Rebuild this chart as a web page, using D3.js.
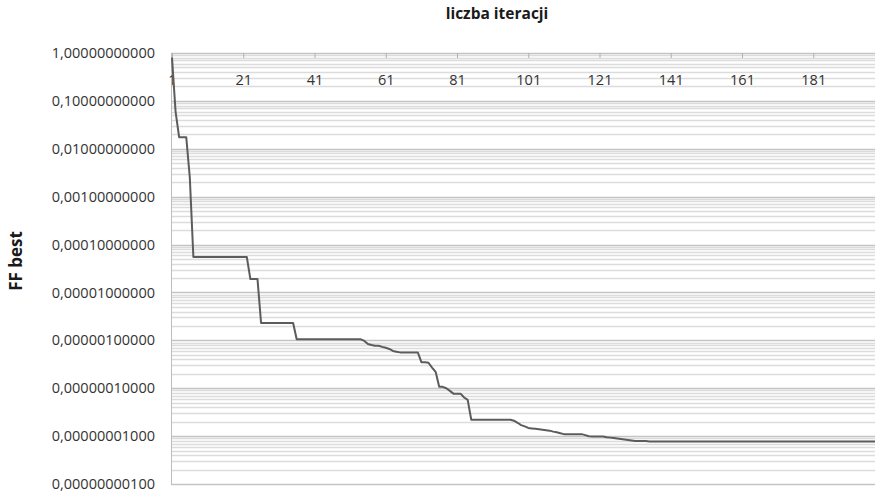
<!DOCTYPE html>
<html>
<head>
<meta charset="utf-8">
<script src="https://cdn.jsdelivr.net/npm/d3@7"></script>
<style>
  body { margin: 0; background: #fff; }
  text { font-family: "Open Sans", sans-serif; }
</style>
</head>
<body>
<div id="chart"></div>
<script>
// iterations (category axis) and the best fitness value per iteration
var iterations = d3.range(1, 201);
var xTickLabels = [1, 21, 41, 61, 81, 101, 121, 141, 161, 181];
var yTicks = [1, 0.1, 0.01, 0.001, 1e-4, 1e-5, 1e-6, 1e-7, 1e-8, 1e-9];

var ffBest = [
  0.8, 0.06, 0.0175, 0.0175, 0.0175, 0.0025, 5.5e-5, 5.5e-5, 5.5e-5, 5.5e-5,
  5.5e-5, 5.5e-5, 5.5e-5, 5.5e-5, 5.5e-5, 5.5e-5, 5.5e-5, 5.5e-5, 5.5e-5, 5.5e-5,
  5.5e-5, 5.5e-5, 1.9e-5, 1.9e-5, 1.9e-5, 2.3e-6, 2.3e-6, 2.3e-6, 2.3e-6, 2.3e-6,
  2.3e-6, 2.3e-6, 2.3e-6, 2.3e-6, 2.3e-6, 1.05e-6, 1.05e-6, 1.05e-6, 1.05e-6, 1.05e-6,
  1.05e-6, 1.05e-6, 1.05e-6, 1.05e-6, 1.05e-6, 1.05e-6, 1.05e-6, 1.05e-6, 1.05e-6, 1.05e-6,
  1.05e-6, 1.05e-6, 1.05e-6, 1.05e-6, 9.7e-7, 8.4e-7, 8.0e-7, 7.7e-7, 7.7e-7, 7.3e-7,
  7.0e-7, 6.6e-7, 6.0e-7, 5.8e-7, 5.6e-7, 5.6e-7, 5.6e-7, 5.6e-7, 5.6e-7, 5.6e-7,
  3.5e-7, 3.5e-7, 3.4e-7, 2.7e-7, 2.2e-7, 1.07e-7, 1.07e-7, 1.0e-7, 8.8e-8, 7.7e-8,
  7.7e-8, 7.7e-8, 6.4e-8, 5.7e-8, 2.2e-8, 2.2e-8, 2.2e-8, 2.2e-8, 2.2e-8, 2.2e-8,
  2.2e-8, 2.2e-8, 2.2e-8, 2.2e-8, 2.2e-8, 2.2e-8, 2.1e-8, 1.9e-8, 1.7e-8, 1.6e-8,
  1.48e-8, 1.45e-8, 1.42e-8, 1.39e-8, 1.36e-8, 1.33e-8, 1.3e-8, 1.24e-8, 1.2e-8, 1.15e-8,
  1.1e-8, 1.1e-8, 1.1e-8, 1.1e-8, 1.1e-8, 1.1e-8, 1.05e-8, 9.9e-9, 9.8e-9, 9.8e-9,
  9.8e-9, 9.8e-9, 9.5e-9, 9.3e-9, 9.1e-9, 8.9e-9, 8.7e-9, 8.5e-9, 8.3e-9, 8.1e-9,
  7.9e-9, 7.9e-9, 7.9e-9, 7.9e-9, 7.7e-9, 7.7e-9, 7.7e-9, 7.7e-9, 7.7e-9, 7.7e-9,
  7.7e-9, 7.7e-9, 7.7e-9, 7.7e-9, 7.7e-9, 7.7e-9, 7.7e-9, 7.7e-9, 7.7e-9, 7.7e-9,
  7.7e-9, 7.7e-9, 7.7e-9, 7.7e-9, 7.7e-9, 7.7e-9, 7.7e-9, 7.7e-9, 7.7e-9, 7.7e-9,
  7.7e-9, 7.7e-9, 7.7e-9, 7.7e-9, 7.7e-9, 7.7e-9, 7.7e-9, 7.7e-9, 7.7e-9, 7.7e-9,
  7.7e-9, 7.7e-9, 7.7e-9, 7.7e-9, 7.7e-9, 7.7e-9, 7.7e-9, 7.7e-9, 7.7e-9, 7.7e-9,
  7.7e-9, 7.7e-9, 7.7e-9, 7.7e-9, 7.7e-9, 7.7e-9, 7.7e-9, 7.7e-9, 7.7e-9, 7.7e-9,
  7.7e-9, 7.7e-9, 7.7e-9, 7.7e-9, 7.7e-9, 7.7e-9, 7.7e-9, 7.7e-9, 7.7e-9, 7.7e-9
];

var totalWidth = 875,
  totalHeight = 494,
  margin = { top: 53, bottom: 10, left: 171, right: 0 },
  width = totalWidth - margin.left - margin.right,
  height = totalHeight - margin.top - margin.bottom;

var svg = d3
  .select("#chart")
  .append("svg")
  .attr("width", totalWidth)
  .attr("height", totalHeight);

var g = svg.append("g")
  .attr("transform", "translate(" + margin.left + "," + margin.top + ")");

var x = d3.scaleLinear()
          .domain([1, 200])
          .range([1, 1 + 199 * 3.5625]);

var y = d3.scaleLog()
          .domain([1e-9, 1])
          .range([height, 0]);

// minor gridlines (2..9 within each decade)
var minor = [];
yTicks.slice(1).forEach(function(d) {
  for (var k = 2; k <= 9; k++) minor.push(d * k);
});

g.append("g")
 .selectAll("line")
 .data(minor)
 .enter().append("line")
 .attr("x1", 0)
 .attr("x2", width)
 .attr("y1", function(d) { return Math.round(y(d)) + 0.5 })
 .attr("y2", function(d) { return Math.round(y(d)) + 0.5 })
 .attr("stroke", "#dcdcdc")
 .attr("stroke-width", 1.5);

// major gridlines
g.append("g")
 .selectAll("line")
 .data(yTicks)
 .enter().append("line")
 .attr("x1", 0)
 .attr("x2", width)
 .attr("y1", function(d) { return Math.round(y(d)) + 0.5 })
 .attr("y2", function(d) { return Math.round(y(d)) + 0.5 })
 .attr("stroke", "#c4c4c4")
 .attr("stroke-width", 1.5);

// left border of plot area
g.append("line")
 .attr("x1", 0.5).attr("x2", 0.5)
 .attr("y1", 0).attr("y2", height)
 .attr("stroke", "#bdbdbd");

// y axis labels
var yAxis = g.append("g")
  .call(d3.axisLeft(y)
          .tickValues(yTicks)
          .tickSize(0)
          .tickPadding(16)
          .tickFormat(function(d) { return d.toFixed(11).replace(".", ",") }));
yAxis.select(".domain").remove();
yAxis.selectAll("text")
  .style("font-family", "'Open Sans', sans-serif")
  .style("font-size", "14.5px")
  .attr("fill", "#333");

// x axis sits at the top (value 1), labels below it
var xAxis = g.append("g")
  .call(d3.axisBottom(x)
          .tickValues(xTickLabels)
          .tickSize(5)
          .tickPadding(17)
          .tickFormat(d3.format("d")));
xAxis.select(".domain").remove();
xAxis.selectAll("line").attr("stroke", "#b0b0b0");
xAxis.selectAll("text")
  .style("font-family", "'Open Sans', sans-serif")
  .style("font-size", "14.5px")
  .attr("fill", "#333");

// the FF best line
g.append("clipPath").attr("id", "clip")
 .append("rect").attr("width", width).attr("height", height);

g.append("path")
 .datum(iterations)
 .attr("clip-path", "url(#clip)")
 .attr("fill", "none")
 .attr("stroke", "#5c5c5c")
 .attr("stroke-width", 2)
 .attr("stroke-linejoin", "round")
 .attr("d", d3.line()
              .x(function(d) { return x(d) })
              .y(function(d) { return y(ffBest[d - 1]) }));

// titles
svg.append("text")
   .attr("x", 497)
   .attr("y", 19)
   .attr("text-anchor", "middle")
   .style("font-size", "15.5px")
   .style("font-weight", "bold")
   .attr("fill", "#1a1a1a")
   .text("liczba iteracji");

svg.append("text")
   .attr("transform", "translate(22,261) rotate(-90)")
   .attr("text-anchor", "middle")
   .style("font-size", "17px")
   .style("font-weight", "bold")
   .attr("fill", "#1a1a1a")
   .text("FF best");
</script>
</body>
</html>
